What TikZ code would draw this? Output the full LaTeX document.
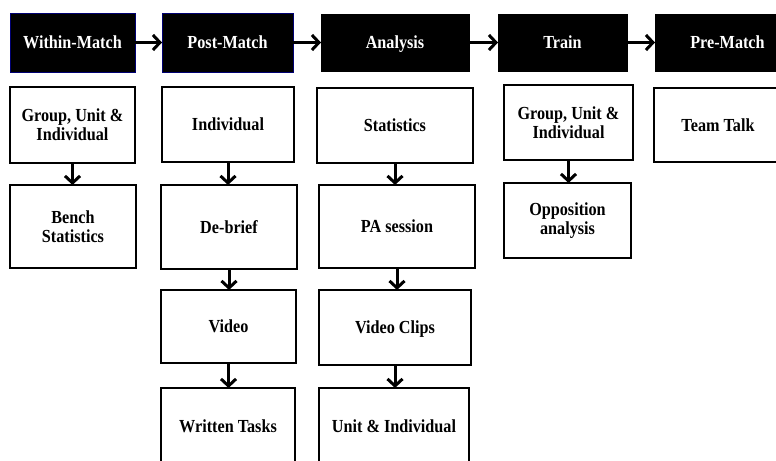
\documentclass[tikz,border=0pt]{standalone}
\usepackage{fontspec}
\setmainfont{Liberation Serif}[FakeStretch=0.88]
\usetikzlibrary{arrows.meta,shadows}
\begin{document}
\begin{tikzpicture}[x=1bp,y=-1bp,
  every node/.style={font=\fontsize{18.4bp}{19bp}\selectfont\bfseries, align=center, inner sep=0pt, outer sep=0pt, text height=12.3bp, text depth=0pt},
  two/.style={text height=, text depth=},
  head/.style={fill=black, text=white, draw=black, line width=0.8bp, drop shadow={shadow xshift=1.2bp, shadow yshift=-1.5bp, opacity=0.3}},
  headb/.style={head, draw=blue!45!black},
  box/.style={draw=black, line width=2bp, fill=white},
  arr/.style={line width=3bp, -{Straight Barb[length=7bp,width=15bp,line width=3bp]}}
]
\useasboundingbox (0,0) rectangle (776,461);
\clip (0,0) rectangle (776,461);
% headers
\node[headb, minimum width=125bp, minimum height=59bp] (wm) at (72.5,42.5) {Within-Match};
\node[headb, minimum width=131bp, minimum height=59bp] (pm) at (227.5,42.5) {Post-Match};
\node[head, minimum width=148bp, minimum height=57bp] (an) at (395,42.5) {Analysis};
\node[head, minimum width=129bp, minimum height=57bp] (tr) at (562.5,42.5) {Train};
\node[head, minimum width=145bp, minimum height=57bp] (pr) at (727.5,42.5) {Pre-Match};
% row 1
\node[box, two, minimum width=125bp, minimum height=76bp] (wm1) at (72.5,125) {Group, Unit \&\\Individual};
\node[box, minimum width=132bp, minimum height=75bp] (pm1) at (228,124.5) {Individual};
\node[box, minimum width=156bp, minimum height=75bp] (an1) at (395,125.5) {Statistics};
\node[box, two, minimum width=129bp, minimum height=75bp] (tr1) at (568.5,122.5) {Group, Unit \&\\Individual};
\node[box, minimum width=128bp, minimum height=74bp] (pr1) at (718,125) {Team Talk};
% row 2
\node[box, two, minimum width=126bp, minimum height=83bp] (wm2) at (73,226.5) {Bench\\Statistics};
\node[box, minimum width=136bp, minimum height=84bp] (pm2) at (229,227) {De-brief};
\node[box, minimum width=156bp, minimum height=83bp] (an2) at (397,226.5) {PA session};
\node[box, two, minimum width=127bp, minimum height=75bp] (tr2) at (567.5,220.5) {Opposition\\analysis};
% row 3
\node[box, minimum width=135bp, minimum height=73bp] (pm3) at (228.5,326.5) {Video};
\node[box, minimum width=152bp, minimum height=75bp] (an3) at (395,327.5) {Video Clips};
% row 4
\node[box, minimum width=134bp, minimum height=76bp] (pm4) at (228,426) {Written Tasks};
\node[box, minimum width=150bp, minimum height=76bp] (an4) at (394,426) {Unit \& Individual};
% horizontal arrows
\draw[arr] (wm.east) -- (pm.west);
\draw[arr] (pm.east) -- (an.west);
\draw[arr] (an.east) -- (tr.west);
\draw[arr] (tr.east) -- (pr.west);
% vertical arrows
\draw[arr] (wm1.south) -- (wm1.south |- wm2.north);
\draw[arr] (pm1.south) -- (pm1.south |- pm2.north);
\draw[arr] (pm2.south) -- (pm2.south |- pm3.north);
\draw[arr] (pm3.south) -- (pm3.south |- pm4.north);
\draw[arr] (an1.south) -- (an1.south |- an2.north);
\draw[arr] (an2.south) -- (an2.south |- an3.north);
\draw[arr] (an3.south) -- (an3.south |- an4.north);
\draw[arr] (tr1.south) -- (tr1.south |- tr2.north);
\end{tikzpicture}
\end{document}
